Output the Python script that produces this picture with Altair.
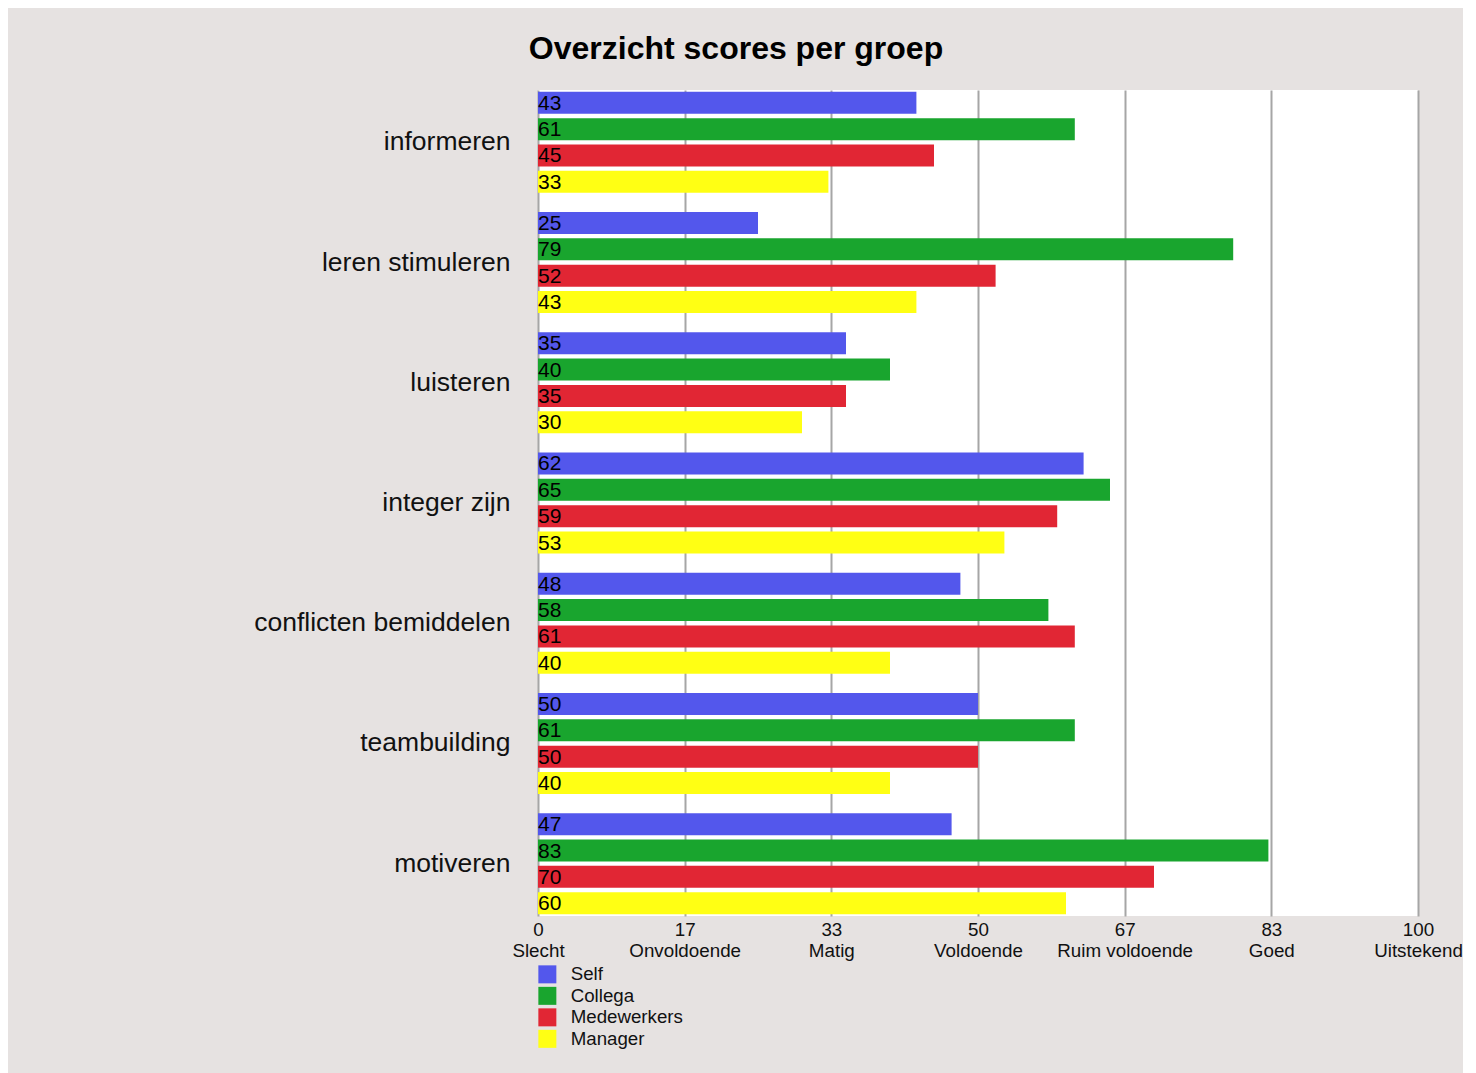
import altair as alt
import pandas as pd

categories = ["informeren", "leren stimuleren", "luisteren", "integer zijn",
              "conflicten bemiddelen", "teambuilding", "motiveren"]
series = ["Self", "Collega", "Medewerkers", "Manager"]
colors = ["#5357ec", "#19a52e", "#e12634", "#ffff14"]
self_vals = [43, 25, 35, 62, 48, 50, 47]
collega_vals = [61, 79, 40, 65, 58, 61, 83]
medewerkers_vals = [45, 52, 35, 59, 61, 50, 70]
manager_vals = [33, 43, 30, 53, 40, 40, 60]
tick_values = [0, 100 / 6, 200 / 6, 50, 400 / 6, 500 / 6, 100]
tick_numbers = ["0", "17", "33", "50", "67", "83", "100"]
tick_names = ["Slecht", "Onvoldoende", "Matig", "Voldoende", "Ruim voldoende", "Goed", "Uitstekend"]

rows = []
for s, vals in zip(series, [self_vals, collega_vals, medewerkers_vals, manager_vals]):
    for c, v in zip(categories, vals):
        rows.append({"categorie": c, "groep": s, "score": v})
df = pd.DataFrame(rows)

# label expression built from tick arrays
parts = []
for v, n, name in zip(tick_values, tick_numbers, tick_names):
    parts.append(f"abs(datum.value - {v}) < 0.01 ? ['{n}', '{name}']")
label_expr = " : ".join(parts) + " : ''"

font = "Liberation Sans"

y_enc = alt.Y("categorie:N", sort=categories,
              scale=alt.Scale(paddingInner=0.16, paddingOuter=0.015),
              axis=alt.Axis(title=None, ticks=False, domain=False, labelFontSize=26.5,
                            labelColor="#111111", labelPadding=28, labelFont=font,
                            labelLimit=0))
yoff = alt.YOffset("groep:N", sort=series,
                   scale=alt.Scale(paddingInner=0.165, paddingOuter=0))

bars = alt.Chart(df).mark_bar().encode(
    y=y_enc,
    yOffset=yoff,
    x=alt.X("score:Q", scale=alt.Scale(domain=[0, 100], nice=False),
            axis=alt.Axis(title=None, values=tick_values, labelExpr=label_expr,
                          grid=True, gridColor="#a6a6a6", gridWidth=2,
                          domain=False, ticks=False, labelFontSize=18.8,
                          labelColor="#111111", labelFont=font, labelPadding=4,
                          labelLineHeight=21, labelFlush=False, labelLimit=0)),
    color=alt.Color("groep:N", sort=series,
                    scale=alt.Scale(domain=series, range=colors),
                    legend=alt.Legend(title=None, orient="none", legendX=0, legendY=875,
                                      symbolType="square", symbolSize=324,
                                      symbolStrokeWidth=0, labelFontSize=18.7,
                                      labelFont=font, labelColor="#111111",
                                      labelOffset=14, rowPadding=1.5, labelLimit=0)),
)

texts = alt.Chart(df).mark_text(align="left", baseline="middle", dx=0, dy=1,
                                fontSize=21, font=font, color="#000000").encode(
    y=alt.Y("categorie:N", sort=categories),
    yOffset=yoff,
    x=alt.value(0),
    text=alt.Text("score:Q"),
)

chart = alt.layer(bars, texts).properties(
    width=880, height=826,
    background="#e6e2e1",
    padding={"left": 530, "top": 82, "right": 45, "bottom": 160},
    autosize=alt.AutoSizeParams(type="none"),
    title=alt.TitleParams("Overzicht scores per groep", fontSize=32, fontWeight="bold",
                          font=font, color="#000000", anchor="middle", dx=-242,
                          offset=24),
).configure_view(fill="#ffffff", stroke=None)

chart.save("out.html", embed_options={"renderer": "svg", "actions": False})
